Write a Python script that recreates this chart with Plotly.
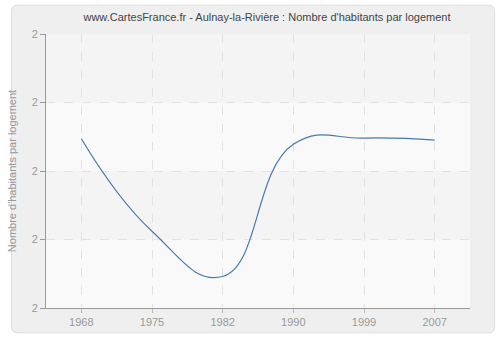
import plotly.graph_objects as go

years = ["1968", "1975", "1982", "1990", "1999", "2007"]
values = [2.247, 2.112, 2.046, 2.239, 2.248, 2.245]
y_ticks = [2.0, 2.1, 2.2, 2.3, 2.4]
y_labels = ["2", "2", "2", "2", "2"]

idx = list(range(len(years)))

fig = go.Figure()
fig.add_trace(go.Scatter(
    x=idx, y=values, mode="lines",
    line=dict(color="#4a78b0", width=1.2, shape="spline", smoothing=1.3),
    hoverinfo="skip", showlegend=False,
))

# rounded outer frame (paper coords; plot area is 430x276 px)
pw, ph = 430.0, 276.0
x0, x1 = -35 / pw, 1 + 25 / pw
y0, y1 = -25 / ph, 1 + 29 / ph
rx, ry = 6 / pw, 6 / ph
frame_path = (
    f"M {x0+rx},{y0} L {x1-rx},{y0} Q {x1},{y0} {x1},{y0+ry} "
    f"L {x1},{y1-ry} Q {x1},{y1} {x1-rx},{y1} "
    f"L {x0+rx},{y1} Q {x0},{y1} {x0},{y1-ry} "
    f"L {x0},{y0+ry} Q {x0},{y0} {x0+rx},{y0} Z"
)
shapes = [
    dict(type="path", xref="paper", yref="paper", path=frame_path,
         fillcolor="#efefef", line=dict(color="#dedede", width=1), layer="below"),
    dict(type="rect", xref="paper", yref="paper", x0=0, x1=1, y0=0, y1=1,
         fillcolor="#f9f9f9", line=dict(width=0), layer="below"),
]
for i in range(len(y_ticks) - 1):
    if i % 2 == 1:
        shapes.append(dict(type="rect", xref="paper", yref="y", x0=0, x1=1,
                           y0=y_ticks[i], y1=y_ticks[i + 1],
                           fillcolor="#f4f4f4", line=dict(width=0), layer="below"))

fig.update_layout(
    width=500, height=340,
    margin=dict(l=40, r=30, t=34, b=30),
    paper_bgcolor="white",
    plot_bgcolor="rgba(0,0,0,0)",
    font=dict(family="Liberation Sans, Arial, sans-serif", size=11, color="#999999"),
    title=dict(text="www.CartesFrance.fr - Aulnay-la-Rivière : Nombre d'habitants par logement",
               x=0.534, xanchor="center", y=0.95, yanchor="middle",
               font=dict(size=11, color="#444444")),
    shapes=shapes,
    xaxis=dict(range=[-0.5, 5.5], tickvals=idx, ticktext=years,
               showgrid=True, gridcolor="#e2e2e2", griddash="dash", gridwidth=1,
               showline=True, linecolor="#999999", linewidth=1,
               ticks="outside", ticklen=4, tickcolor="#bbbbbb",
               zeroline=False, fixedrange=True),
    yaxis=dict(range=[2.0, 2.4], tickvals=y_ticks, ticktext=y_labels,
               showgrid=True, gridcolor="#e2e2e2", griddash="dash", gridwidth=1,
               showline=True, linecolor="#999999", linewidth=1,
               ticks="outside", ticklen=5, tickcolor="#999999",
               zeroline=False, fixedrange=True,
               title=dict(text="Nombre d'habitants par logement", standoff=12,
                          font=dict(size=11, color="#999999"))),
)

fig.write_html("out.html")
